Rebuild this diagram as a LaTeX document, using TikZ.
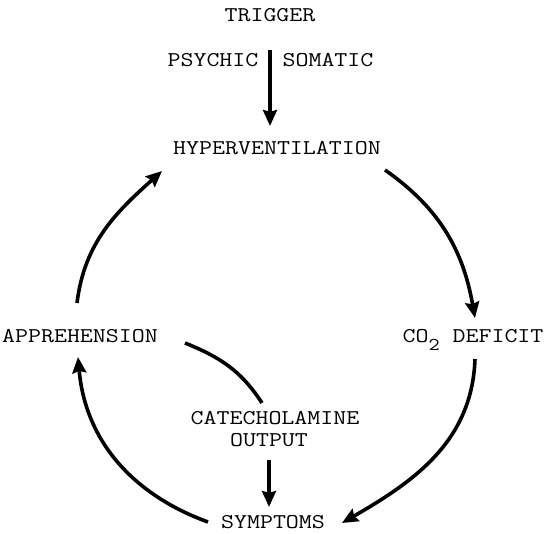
\documentclass[tikz,border=0pt]{standalone}
\usepackage{fontspec}
\usepackage{graphicx}
\usepackage{tikz}
\usetikzlibrary{arrows.meta}
% typewriter caps, widened to the reference's letter pitch
\newcommand{\wide}[1]{\scalebox{1.2}[1]{#1}}

\begin{document}
\begin{tikzpicture}[x=1pt, y=1pt,
      lbl/.style={inner sep=0pt, anchor=base,
                  font=\ttfamily\fontsize{21}{21}\selectfont},
      arr/.style={-{Stealth[length=16pt, width=14pt, inset=2pt]}, line width=3.6pt},
      link/.style={line width=3.6pt}]
    \useasboundingbox (0,0) rectangle (549,534);
    \node[lbl] (trigger) at (270,512) {\wide{TRIGGER}};
    \node[lbl] (psychic) at (213,467) {\wide{PSYCHIC}};
    \node[lbl] (somatic) at (328,467) {\wide{SOMATIC}};
    \node[lbl] (hyper)   at (277,379) {\wide{HYPERVENTILATION}};
    \node[lbl] (appr)    at (80,191)  {\wide{APPREHENSION}};
    \node[lbl] (co2)     at (473,191)
          {\wide{CO\raisebox{-8pt}{\fontsize{18}{18}\selectfont 2} DEFICIT}};
    \node[lbl] (cate)    at (275,109) {\wide{CATECHOLAMINE}};
    \node[lbl] (output)  at (269,87)  {\wide{OUTPUT}};
    \node[lbl] (symp)    at (273,5)   {\wide{SYMPTOMS}};
    % trigger into the cycle
    \draw[arr] ([yshift=-28pt]trigger.base) -- ([yshift=29pt]hyper.base -| trigger.base);
    % the cycle
    \draw[arr] ([shift={(108,-15)}]hyper.base) to[out=-35, in=100] ([shift={(2,25)}]co2.base);
    \draw[arr] ([shift={(2,-16)}]co2.base) to[out=-92, in=30] ([shift={(69,6)}]symp.base);
    \draw[arr] ([shift={(-65,7)}]symp.base) to[out=160, in=-85] ([shift={(-2,-14)}]appr.base);
    \draw[arr] ([shift={(-3,40)}]appr.base) to[out=83, in=222] ([shift={(-115,-16)}]hyper.base);
    % side branch
    \draw[link] ([shift={(105,0)}]appr.base) to[out=-22, in=123] ([shift={(-13,22)}]cate.base);
    \draw[arr] ([yshift=-13pt]output.base) -- ([yshift=22pt]symp.base -| output.base);
  \end{tikzpicture}
\end{document}
